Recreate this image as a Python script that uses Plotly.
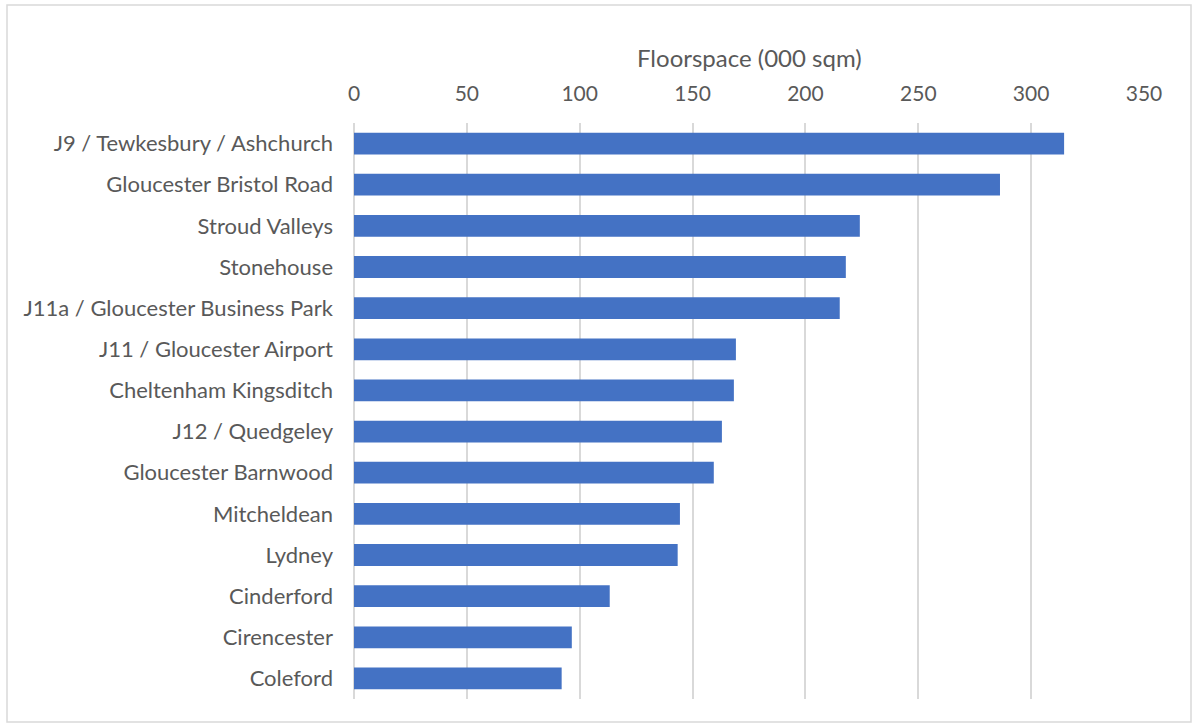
import plotly.graph_objects as go

categories = [
    "J9 / Tewkesbury / Ashchurch",
    "Gloucester Bristol Road",
    "Stroud Valleys",
    "Stonehouse",
    "J11a / Gloucester Business Park",
    "J11 / Gloucester Airport",
    "Cheltenham Kingsditch",
    "J12 / Quedgeley",
    "Gloucester Barnwood",
    "Mitcheldean",
    "Lydney",
    "Cinderford",
    "Cirencester",
    "Coleford",
]
floorspace = [314.6, 286.2, 224.1, 217.9, 215.2, 169.2, 168.3, 163.0, 159.4, 144.4, 143.4, 113.3, 96.5, 92.0]
tick_values = [0, 50, 100, 150, 200, 250, 300, 350]
axis_title = "Floorspace (000 sqm)"

fig = go.Figure(go.Bar(
    x=floorspace, y=categories, orientation="h",
    marker=dict(color="#4472C4", line=dict(width=0)),
))

font_family = "Lato, Carlito, Calibri, sans-serif"
fig.update_layout(
    width=1192, height=726,
    margin=dict(l=354, r=48, t=123, b=27),
    paper_bgcolor="white", plot_bgcolor="white",
    bargap=0.47,
    showlegend=False,
    font=dict(family=font_family, size=22, color="#595959"),
    xaxis=dict(
        side="top", range=[0, 350], tickvals=tick_values,
        showgrid=True, gridcolor="#d9d9d9", gridwidth=1.5,
        zeroline=True, zerolinecolor="#d9d9d9", zerolinewidth=1.5,
        showline=False, ticks="", ticklabelstandoff=17,
        tickfont=dict(size=21, color="#595959"),
        fixedrange=True,
    ),
    yaxis=dict(
        categoryorder="array", categoryarray=categories, autorange="reversed",
        showgrid=False, showline=False, ticks="", ticklabelstandoff=20,
        tickfont=dict(size=22, color="#595959"),
    ),
    annotations=[dict(
        text=axis_title, xref="paper", yref="paper", x=(749 - 354) / 790, y=(699 - 58) / 576,
        showarrow=False, xanchor="center", yanchor="middle",
        font=dict(size=24, color="#595959", family=font_family),
    )],
    shapes=[dict(
        type="rect", xref="paper", yref="paper",
        x0=(7 - 354) / 790, x1=(1191 - 354) / 790,
        y0=(699 - 722) / 576, y1=(699 - 5) / 576,
        line=dict(color="#d9d9d9", width=1.5), fillcolor="rgba(0,0,0,0)", layer="below",
    )],
)

fig.write_html("out.html", config={"displayModeBar": False},
               post_script="document.body.style.margin='0px';")
